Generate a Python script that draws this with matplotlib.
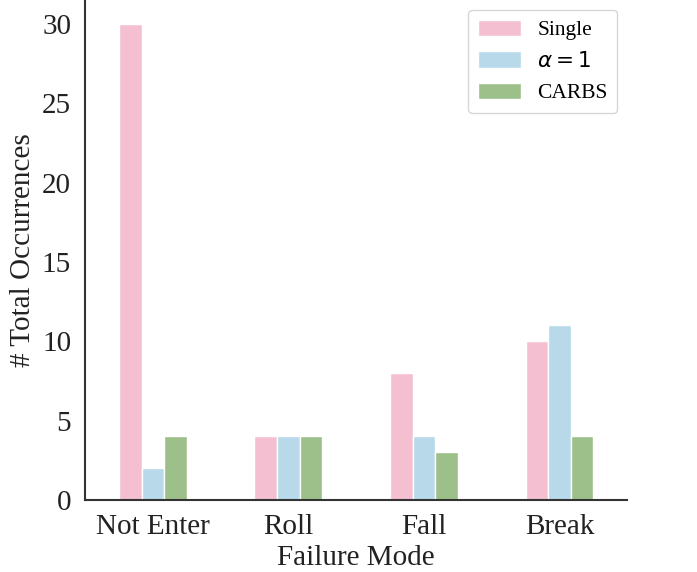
import matplotlib
matplotlib.use("Agg")
import matplotlib.pyplot as plt
import numpy as np

categories = ["Not Enter", "Roll", "Fall", "Break"]
series_names = ["Single", r"$\alpha=1$", "CARBS"]
single = [30, 4, 8, 10]
alpha1 = [2, 4, 4, 11]
carbs = [4, 4, 3, 4]
colors = ["#F4C0D1", "#B8D9E9", "#9DBF8A"]

plt.rcParams['font.family'] = ['Liberation Serif', 'DejaVu Serif']
plt.rcParams['mathtext.fontset'] = 'dejavusans'

fig = plt.figure(figsize=(6.97, 5.72), dpi=100)
ax = fig.add_axes([0.122, 0.126, 0.778, 0.874])

data = [single, alpha1, carbs]
x = np.arange(len(categories))
w = 0.5 / 3
for i, (vals, name, c) in enumerate(zip(data, series_names, colors)):
    ax.bar(x + (i - 1) * w, vals, width=w, color=c, edgecolor="white", linewidth=1.0, label=name)

ax.set_xlim(-0.5, 3.5)
ax.set_ylim(0, 31.5)
ax.set_xticks(x)
ax.set_xticklabels(categories, fontsize=21)
ax.set_yticks([0, 5, 10, 15, 20, 25, 30])
ax.tick_params(axis='y', labelsize=21, length=0, pad=10)
ax.tick_params(axis='x', length=0, pad=10)
ax.set_xlabel("Failure Mode", fontsize=21, color="#222222", labelpad=4)
ax.set_ylabel("# Total Occurrences", fontsize=21, color="#222222", labelpad=4)
for s in ["top", "right"]:
    ax.spines[s].set_visible(False)
for s in ["left", "bottom"]:
    ax.spines[s].set_color("#333333")
    ax.spines[s].set_linewidth(1.5)
for lab in ax.get_xticklabels() + ax.get_yticklabels():
    lab.set_color("#222222")

leg = ax.legend(loc="upper right", fontsize=15.5, frameon=True, fancybox=True,
                edgecolor="#cccccc", handlelength=2.0, handleheight=0.8,
                borderpad=0.45, labelspacing=0.5, handletextpad=0.75,
                borderaxespad=0, bbox_to_anchor=(0.9815, 0.98))

fig.savefig("out.png", dpi=100)
